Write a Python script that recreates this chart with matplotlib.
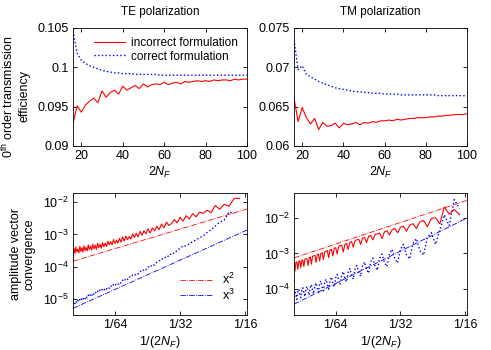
import numpy as np
import matplotlib
matplotlib.use("Agg")
import matplotlib.pyplot as plt
from matplotlib.ticker import FixedLocator, FixedFormatter, NullLocator, LogLocator, LogFormatterMathtext

plt.rcParams['font.family'] = ['Liberation Sans', 'DejaVu Sans']
plt.rcParams['mathtext.fontset'] = 'custom'
plt.rcParams['mathtext.rm'] = 'Liberation Sans'
plt.rcParams['mathtext.it'] = 'Liberation Sans:italic'
plt.rcParams['font.size'] = 8.5

# --- top row: 0th order transmission vs 2N_F ---
n_top = np.arange(16, 101, 2)

te_incorrect = [0.0929, 0.0951, 0.0943, 0.0952, 0.0957, 0.0961, 0.0955, 0.0970, 0.0962, 0.0968,
                0.0971, 0.0966, 0.0976, 0.0971, 0.0974, 0.0977, 0.0973, 0.0979, 0.0975, 0.0978,
                0.0979, 0.0978, 0.0981, 0.0978, 0.0980, 0.0981, 0.0979, 0.0982, 0.0981, 0.0982,
                0.0983, 0.0982, 0.0983, 0.0982, 0.0984, 0.0983, 0.0984, 0.0984, 0.0983, 0.0985,
                0.0984, 0.0985, 0.0985]
te_correct = [0.1046, 0.1018, 0.1009, 0.1005, 0.1002, 0.1000, 0.0998, 0.0996, 0.0995, 0.0994,
              0.0993, 0.0993, 0.0992, 0.0992, 0.0992, 0.0991, 0.0991, 0.0991, 0.0991, 0.0991,
              0.0991, 0.0990, 0.0990, 0.0990, 0.0990, 0.0990, 0.0990, 0.0990, 0.0990, 0.0990,
              0.0990, 0.0990, 0.0990, 0.0990, 0.0990, 0.0990, 0.0990, 0.0990, 0.0990, 0.0990,
              0.0990, 0.0990, 0.0990]
tm_incorrect = [0.0661, 0.0631, 0.0649, 0.0636, 0.0628, 0.0635, 0.0621, 0.0630, 0.0625, 0.0626,
                0.0629, 0.0623, 0.0629, 0.0627, 0.0628, 0.0630, 0.0627, 0.0630, 0.0629, 0.0631,
                0.0630, 0.0632, 0.0632, 0.0633, 0.0632, 0.0634, 0.0633, 0.0634, 0.0635, 0.0635,
                0.0636, 0.0636, 0.0636, 0.0637, 0.0637, 0.0638, 0.0638, 0.0639, 0.0639, 0.0640,
                0.0640, 0.0640, 0.0641]
tm_correct = [0.0735, 0.0697, 0.0702, 0.0691, 0.0688, 0.0685, 0.0682, 0.0680, 0.0678, 0.0676,
              0.0674, 0.0673, 0.0672, 0.0671, 0.0670, 0.0669, 0.0669, 0.0668, 0.0668, 0.0667,
              0.0667, 0.0667, 0.0666, 0.0666, 0.0666, 0.0666, 0.0665, 0.0665, 0.0665, 0.0665,
              0.0665, 0.0665, 0.0665, 0.0665, 0.0665, 0.0664, 0.0664, 0.0664, 0.0664, 0.0664,
              0.0664, 0.0664, 0.0664]

# --- bottom row: amplitude vector convergence vs 1/(2N_F), 2N_F = 100 ... 17 ---
n_bot = np.arange(100, 16, -1)

te_conv_incorrect = [2.4e-4, 3.8e-4, 2.6e-4, 4.1e-4, 2.9e-4, 3.5e-4, 2.7e-4, 4.3e-4, 3.0e-4, 3.9e-4,
                     2.9e-4, 4.5e-4, 3.2e-4, 4.0e-4, 3.1e-4, 4.8e-4, 3.4e-4, 4.4e-4, 3.3e-4, 5.0e-4,
                     3.6e-4, 4.7e-4, 3.5e-4, 5.3e-4, 3.9e-4, 5.0e-4, 3.8e-4, 5.6e-4, 4.2e-4, 5.4e-4,
                     4.3e-4, 6.2e-4, 4.8e-4, 6.0e-4, 4.8e-4, 7.0e-4, 5.3e-4, 6.6e-4, 5.4e-4, 7.6e-4,
                     5.8e-4, 8.4e-4, 6.3e-4, 9.0e-4, 6.9e-4, 8.6e-4, 7.2e-4, 1.05e-3, 8.0e-4, 1.1e-3,
                     8.5e-4, 1.25e-3, 9.5e-4, 1.3e-3, 1.05e-3, 1.5e-3, 1.1e-3, 1.6e-3, 1.3e-3, 1.8e-3,
                     1.4e-3, 2.1e-3, 1.6e-3, 2.4e-3, 1.9e-3, 2.2e-3, 2.9e-3, 2.3e-3, 3.4e-3, 2.6e-3,
                     3.8e-3, 3.0e-3, 4.4e-3, 3.5e-3, 4.9e-3, 4.5e-3, 5.6e-3, 4.7e-3, 7.8e-3, 6.0e-3,
                     8.5e-3, 7.4e-3, 1.3e-2, 1.3e-2]
te_conv_correct = [7.0e-6, 8.2e-6, 7.4e-6, 8.9e-6, 7.9e-6, 9.3e-6, 8.4e-6, 9.9e-6, 9.0e-6, 1.06e-5,
                   9.6e-6, 1.15e-5, 1.04e-5, 1.25e-5, 1.12e-5, 1.35e-5, 1.2e-5, 1.45e-5, 1.3e-5, 1.58e-5,
                   1.45e-5, 1.7e-5, 1.55e-5, 1.8e-5, 1.65e-5, 1.95e-5, 1.8e-5, 2.1e-5, 1.9e-5, 2.2e-5,
                   2.05e-5, 2.4e-5, 2.2e-5, 2.6e-5, 2.4e-5, 2.85e-5, 2.6e-5, 3.1e-5, 2.9e-5, 3.4e-5,
                   3.2e-5, 3.9e-5, 3.6e-5, 4.4e-5, 4.1e-5, 5.0e-5, 4.7e-5, 5.6e-5, 5.4e-5, 6.3e-5,
                   6.1e-5, 7.4e-5, 7.0e-5, 8.6e-5, 8.2e-5, 1.0e-4, 9.6e-5, 1.2e-4, 1.15e-4, 1.4e-4,
                   1.5e-4, 1.8e-4, 1.75e-4, 2.2e-4, 2.1e-4, 2.7e-4, 2.6e-4, 3.3e-4, 3.7e-4, 4.5e-4,
                   4.4e-4, 5.2e-4, 6.0e-4, 6.8e-4, 8.0e-4, 9.0e-4, 1.15e-3, 1.4e-3, 1.8e-3, 2.4e-3,
                   2.8e-3, 5.0e-3, 4.3e-3]
tm_conv_incorrect = [5.0e-4, 3.2e-4, 5.6e-4, 5.8e-4, 3.6e-4, 6.0e-4, 6.2e-4, 4.0e-4, 6.3e-4, 6.6e-4,
                     4.3e-4, 6.9e-4, 7.2e-4, 7.0e-4, 4.6e-4, 7.6e-4, 8.0e-4, 5.0e-4, 8.3e-4, 8.6e-4,
                     8.8e-4, 5.6e-4, 9.3e-4, 9.6e-4, 6.2e-4, 1.0e-3, 1.05e-3, 6.8e-4, 1.1e-3, 1.15e-3,
                     1.2e-3, 7.6e-4, 1.25e-3, 1.3e-3, 8.5e-4, 1.4e-3, 1.45e-3, 9.6e-4, 1.55e-3, 1.65e-3,
                     1.7e-3, 1.1e-3, 1.8e-3, 1.9e-3, 1.3e-3, 2.0e-3, 2.15e-3, 1.5e-3, 2.3e-3, 2.4e-3,
                     2.5e-3, 1.8e-3, 2.7e-3, 2.8e-3, 2.0e-3, 3.0e-3, 3.2e-3, 2.4e-3, 3.4e-3, 3.5e-3,
                     3.7e-3, 2.6e-3, 4.0e-3, 4.3e-3, 3.3e-3, 4.6e-3, 5.0e-3, 3.8e-3, 5.4e-3, 5.8e-3,
                     4.2e-3, 6.2e-3, 6.8e-3, 5.0e-3, 7.6e-3, 8.4e-3, 5.6e-3, 9.5e-3, 1.0e-2, 6.8e-3,
                     2.0e-2, 1.25e-2, 1.7e-2, 1.2e-2]
tm_conv_correct = [6.0e-5, 9.0e-5, 7.0e-5, 5.2e-5, 8.6e-5, 1.0e-4, 7.4e-5, 5.8e-5, 9.6e-5, 1.1e-4,
                   8.0e-5, 6.2e-5, 1.05e-4, 1.2e-4, 8.6e-5, 6.8e-5, 1.15e-4, 1.35e-4, 9.4e-5, 7.4e-5,
                   1.3e-4, 1.5e-4, 1.05e-4, 8.2e-5, 1.45e-4, 1.7e-4, 1.15e-4, 9.0e-5, 1.6e-4, 1.9e-4,
                   1.3e-4, 1.0e-4, 1.8e-4, 2.2e-4, 1.5e-4, 1.15e-4, 2.1e-4, 2.6e-4, 1.75e-4, 1.35e-4,
                   2.5e-4, 3.1e-4, 2.0e-4, 1.6e-4, 3.0e-4, 3.8e-4, 2.4e-4, 1.9e-4, 3.7e-4, 4.6e-4,
                   3.0e-4, 2.3e-4, 4.6e-4, 5.8e-4, 3.6e-4, 2.8e-4, 5.8e-4, 7.4e-4, 4.4e-4, 3.4e-4,
                   7.4e-4, 9.6e-4, 5.6e-4, 4.3e-4, 9.8e-4, 1.3e-3, 7.0e-4, 5.4e-4, 1.3e-3, 1.8e-3,
                   9.0e-4, 7.0e-4, 1.9e-3, 2.6e-3, 1.2e-3, 9.0e-4, 2.8e-3, 3.8e-3, 1.8e-3, 4.5e-3,
                   1.2e-2, 6.0e-3, 3.2e-2, 1.8e-2]

# reference slopes x^2 and x^3 (end points)
ref_x = [1 / 100, 1 / 15.7]
te_ref2 = [1.5e-4, 6.1e-3]
te_ref3 = [5.3e-6, 1.37e-3]
tm_ref2 = [7.5e-4, 3.05e-2]
tm_ref3 = [3.8e-5, 9.8e-3]

red = '#ff0000'
blue = '#0000ff'

fig = plt.figure(figsize=(4.91, 3.5), dpi=100)
W, H = 491, 350
def box(l, t, r, b):
    return [l / W, 1 - b / H, (r - l) / W, (b - t) / H]

ax_te = fig.add_axes(box(73, 28, 247, 146))
ax_tm = fig.add_axes(box(294, 28, 467, 146))
ax_cte = fig.add_axes(box(73, 193, 247, 315))
ax_ctm = fig.add_axes(box(294, 193, 467, 315))

for ax in (ax_te, ax_tm, ax_cte, ax_ctm):
    ax.tick_params(direction='in', top=True, right=True, length=3, width=0.6, pad=3, labelsize=9)
    ax.tick_params(which='minor', top=False, right=False, bottom=False, left=False)
    for s in ax.spines.values():
        s.set_linewidth(0.6)

# top row
ax_te.plot(n_top, te_incorrect, '-', color=red, lw=0.8, label='incorrect formulation')
ax_te.plot(n_top, te_correct, ':', color=blue, lw=1.0, label='correct formulation')
ax_te.set_xlim(16, 100)
ax_te.set_ylim(0.09, 0.105)
ax_te.yaxis.set_major_locator(FixedLocator([0.09, 0.095, 0.1, 0.105]))
ax_te.yaxis.set_major_formatter(FixedFormatter(['0.09', '0.095', '0.1', '0.105']))
ax_te.set_title('TE polarization', fontsize=8.5, pad=9)
ax_te.set_ylabel('0$^{\\rm th}$ order transmission\nefficiency', fontsize=9)
ax_te.yaxis.set_label_coords(-0.245, 0.42)
ax_te.legend(loc='upper right', frameon=False, handlelength=2.6, handletextpad=0.5,
             labelspacing=0.1, borderaxespad=0.4, fontsize=8.5)

ax_tm.plot(n_top, tm_incorrect, '-', color=red, lw=0.8)
ax_tm.plot(n_top, tm_correct, ':', color=blue, lw=1.0)
ax_tm.set_xlim(16, 100)
ax_tm.set_ylim(0.06, 0.075)
ax_tm.yaxis.set_major_locator(FixedLocator([0.06, 0.065, 0.07, 0.075]))
ax_tm.yaxis.set_major_formatter(FixedFormatter(['0.06', '0.065', '0.07', '0.075']))
ax_tm.set_title('TM polarization', fontsize=8.5, pad=9)

for ax in (ax_te, ax_tm):
    ax.xaxis.set_major_locator(FixedLocator([20, 40, 60, 80, 100]))
    ax.set_xlabel('2$N_F$', labelpad=2, fontsize=9)

# bottom row
x_bot = 1.0 / n_bot
ax_cte.plot(x_bot, te_conv_incorrect, '-', color=red, lw=0.8)
ax_cte.plot(x_bot[:len(te_conv_correct)], te_conv_correct, ':', color=blue, lw=1.0)
ax_cte.plot(ref_x, te_ref2, '-.', color=red, lw=0.6, label='x$^2$')
ax_cte.plot(ref_x, te_ref3, '-.', color=blue, lw=0.6, label='x$^3$')
ax_cte.set_ylim(3.3e-6, 1.9e-2)
ax_cte.set_ylabel('amplitude vector\nconvergence', fontsize=9)
ax_cte.yaxis.set_label_coords(-0.215, 0.5)
ax_cte.legend(loc='lower right', frameon=False, handlelength=2.5, handletextpad=0.8,
              labelspacing=0.0, borderaxespad=0.6, fontsize=9)

ax_ctm.plot(x_bot, tm_conv_incorrect, '-', color=red, lw=0.8)
ax_ctm.plot(x_bot, tm_conv_correct, ':', color=blue, lw=1.0)
ax_ctm.plot(ref_x, tm_ref2, '-.', color=red, lw=0.6)
ax_ctm.plot(ref_x, tm_ref3, '-.', color=blue, lw=0.6)
ax_ctm.set_ylim(1.9e-5, 4.9e-2)

for ax in (ax_cte, ax_ctm):
    ax.set_xscale('log')
    ax.set_yscale('log')
    ax.set_xlim(1 / 100, 1 / 15.7)
    ax.xaxis.set_major_locator(FixedLocator([1 / 64, 1 / 32, 1 / 16]))
    ax.xaxis.set_major_formatter(FixedFormatter(['1/64', '1/32', '1/16']))
    ax.xaxis.set_minor_locator(NullLocator())
    ax.yaxis.set_major_locator(LogLocator(base=10, numticks=10))
    ax.yaxis.set_major_formatter(LogFormatterMathtext())
    ax.yaxis.set_minor_locator(NullLocator())
    ax.set_xlabel('1/(2$N_F$)', labelpad=2, fontsize=9)

fig.savefig('out.png', dpi=100)
